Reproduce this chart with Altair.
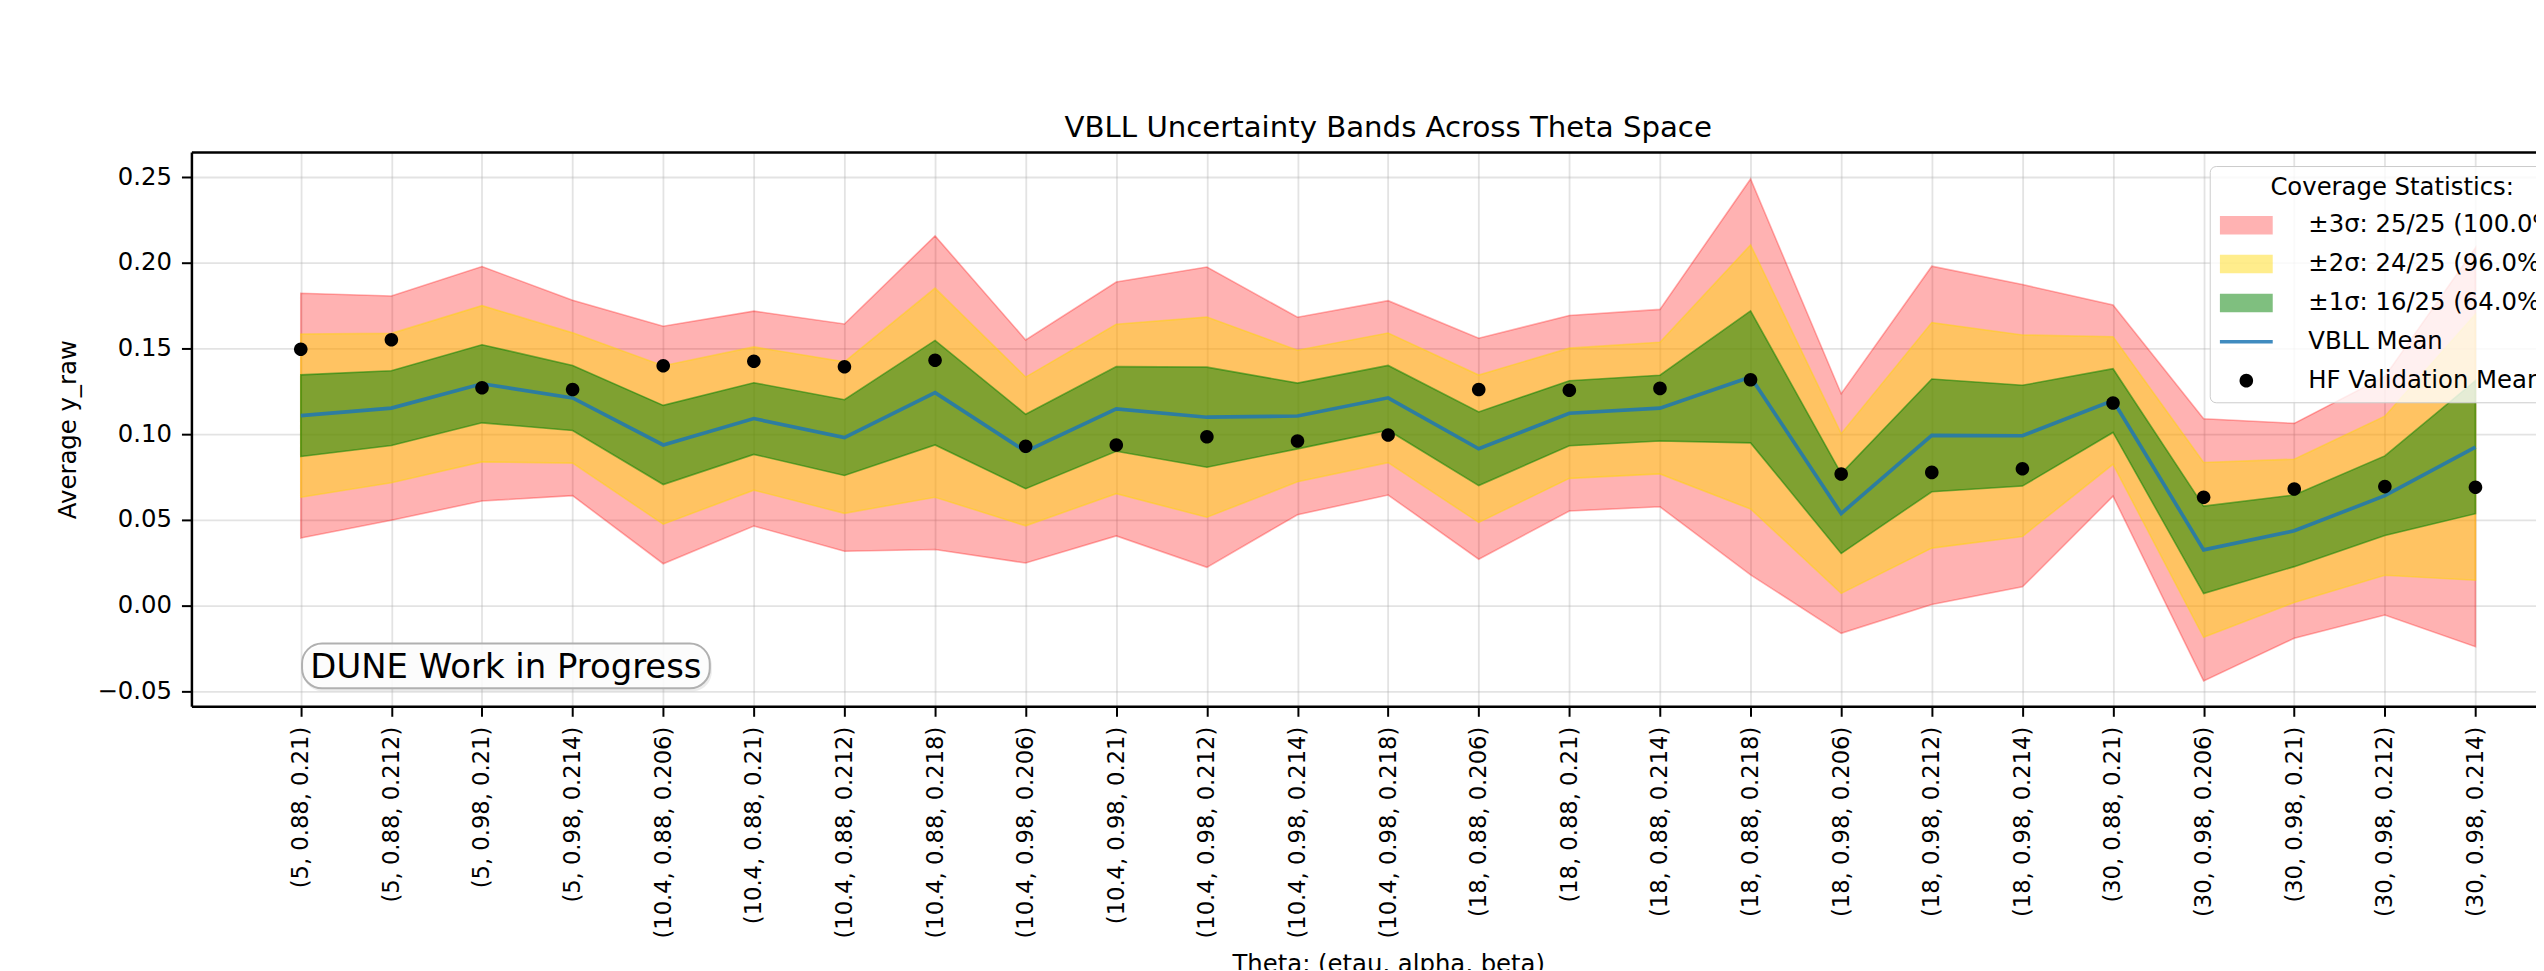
import json
import altair as alt
import pandas as pd

# ---------------- data ----------------
theta_labels = [
    "(5, 0.88, 0.21)", "(5, 0.88, 0.212)", "(5, 0.98, 0.21)", "(5, 0.98, 0.214)",
    "(10.4, 0.88, 0.206)", "(10.4, 0.88, 0.21)", "(10.4, 0.88, 0.212)", "(10.4, 0.88, 0.218)",
    "(10.4, 0.98, 0.206)", "(10.4, 0.98, 0.21)", "(10.4, 0.98, 0.212)", "(10.4, 0.98, 0.214)",
    "(10.4, 0.98, 0.218)", "(18, 0.88, 0.206)", "(18, 0.88, 0.21)", "(18, 0.88, 0.214)",
    "(18, 0.88, 0.218)", "(18, 0.98, 0.206)", "(18, 0.98, 0.212)", "(18, 0.98, 0.214)",
    "(30, 0.88, 0.21)", "(30, 0.98, 0.206)", "(30, 0.98, 0.21)", "(30, 0.98, 0.212)",
    "(30, 0.98, 0.214)",
]

vbll_mean = [0.1109, 0.1153, 0.1295, 0.1212, 0.0938, 0.1092, 0.0981, 0.1243, 0.0900,
             0.1148, 0.1100, 0.1107, 0.1213, 0.0916, 0.1123, 0.1153, 0.1335, 0.0538,
             0.0994, 0.0992, 0.1197, 0.0326, 0.0437, 0.0642, 0.0925]

vbll_std = [0.0238, 0.0218, 0.0228, 0.0190, 0.0231, 0.0209, 0.0221, 0.0305, 0.0217,
            0.0247, 0.0292, 0.0192, 0.0189, 0.0215, 0.0190, 0.0192, 0.0385, 0.0233,
            0.0329, 0.0294, 0.0186, 0.0255, 0.0209, 0.0232, 0.0388]

hf_mean = [0.1496, 0.1552, 0.1272, 0.1262, 0.1400, 0.1426, 0.1394, 0.1432, 0.0930,
           0.0938, 0.0986, 0.0961, 0.0996, 0.1262, 0.1257, 0.1268, 0.1318, 0.0768,
           0.0778, 0.0799, 0.1183, 0.0633, 0.0681, 0.0695, 0.0691]

band_sigmas = [3, 2, 1]
legend_entries = [
    "±3σ: 25/25 (100.0%)",
    "±2σ: 24/25 (96.0%)",
    "±1σ: 16/25 (64.0%)",
    "VBLL Mean",
    "HF Validation Mean",
]
y_ticks = [-0.05, 0.0, 0.05, 0.10, 0.15, 0.20, 0.25]
note_text = ["DUNE Work in Progress"]

# ---------------- styles ----------------
band_fill = ["rgba(255,0,0,0.3)", "rgba(255,215,0,0.45)", "rgba(0,128,0,0.5)"]
mean_color = "rgba(31,119,180,0.85)"
point_color = "#000000"
legend_colors = band_fill + [mean_color, point_color]

# symbol paths in units of half the symbol diameter (symbol size 576 -> 12 px)
PATCH = "M-2.208,-0.773H2.208V0.773H-2.208Z"
LINE = "M-2.208,-0.153H2.208V0.153H-2.208Z"
DOT = "M-0.567,0A0.567,0.567,0,1,1,0.567,0A0.567,0.567,0,1,1,-0.567,0Z"
legend_shapes = [PATCH, PATCH, PATCH, LINE, DOT]
SYMBOL_SIZE = 576

FONT = "DejaVu Sans"
W, H = 2352, 556

base = pd.DataFrame({
    "idx": list(range(len(theta_labels))),
    "theta": theta_labels,
    "mean": vbll_mean,
    "std": vbll_std,
    "hf": hf_mean,
})

x_scale = alt.Scale(domain=[-1.2068, 24.668], nice=False, zero=False)
y_scale = alt.Scale(domain=[-0.0587, 0.2647], nice=False, zero=False)

y_axis = alt.Axis(
    title="Average y_raw", values=y_ticks, format=".2f",
    labelFontSize=24.4, titleX=-116.2, titleY=H / 2, titleAngle=270,
    titleAlign="center", titleBaseline="alphabetic",
)
x_axis = alt.Axis(
    values=list(range(len(theta_labels))),
    labelExpr=json.dumps(theta_labels) + "[datum.value]",
    labelAngle=270, labelAlign="right", labelBaseline="middle",
    labelFontSize=22.7, labelOverlap=False, labelFlush=False, labelLimit=500,
    title="Theta: (etau, alpha, beta)", titleX=1200.6, titleY=266.5,
    titleAlign="center", titleBaseline="alphabetic",
)
top_axis = alt.Axis(orient="top", labels=False, ticks=False, grid=False,
                    domain=True, title=None)

legend = alt.Legend(
    title="Coverage Statistics:", orient="none", legendX=2024.7, legendY=14,
    direction="vertical", padding=10, fillColor="rgba(255,255,255,0.8)",
    strokeColor="#cccccc", cornerRadius=6,
    titleFont=FONT, titleFontSize=24.4, titleFontWeight="normal", titleColor="black",
    titleAnchor="middle", titlePadding=12.7, titleLimit=600,
    labelFont=FONT, labelFontSize=24.4, labelColor="black", labelOffset=50,
    labelLimit=600, symbolSize=SYMBOL_SIZE, symbolOffset=14.5,
    symbolStrokeWidth=0, rowPadding=14,
    zindex=2,
)

color_scale = alt.Scale(domain=legend_entries, range=legend_colors)
shape_scale = alt.Scale(domain=legend_entries, range=legend_shapes)

layers = []
for i, k in enumerate(band_sigmas):
    band = alt.Chart(base).transform_calculate(
        lo=f"datum.mean - {k} * datum.std",
        hi=f"datum.mean + {k} * datum.std",
    ).mark_area(
        fill=band_fill[i], stroke=band_fill[i], strokeWidth=1.6, opacity=1
    ).encode(
        x=alt.X("idx:Q", scale=x_scale, axis=x_axis if i == 0 else None),
        y=alt.Y("lo:Q", scale=y_scale, axis=y_axis),
        y2="hi:Q",
    )
    layers.append(band)

mean_line = alt.Chart(base).mark_line(
    stroke=mean_color, strokeWidth=3.66, opacity=1
).encode(
    x=alt.X("idx:Q", scale=x_scale, axis=top_axis),
    y=alt.Y("mean:Q", scale=y_scale, axis=y_axis),
)
layers.append(mean_line)

points = alt.Chart(base).transform_calculate(
    entry=json.dumps(legend_entries[4])
).mark_point(filled=True, size=SYMBOL_SIZE, opacity=1, strokeWidth=0).encode(
    x=alt.X("idx:Q", scale=x_scale, axis=None),
    y=alt.Y("hf:Q", scale=y_scale, axis=y_axis),
    color=alt.Color("entry:N", scale=color_scale, legend=legend),
    shape=alt.Shape("entry:N", scale=shape_scale, legend=legend),
)
layers.append(points)

note_df = pd.DataFrame({"note": note_text})
note_shadow = alt.Chart(note_df).mark_rect(
    cornerRadius=20, color="#7f7f7f", opacity=0.15
).encode(x=alt.value(112), x2=alt.value(522), y=alt.value(495), y2=alt.value(541))
note_box = alt.Chart(note_df).mark_rect(
    cornerRadius=20, fill="rgba(255,255,255,0.85)", stroke="#b0b0b0",
    strokeWidth=2, opacity=1
).encode(x=alt.value(111), x2=alt.value(520), y=alt.value(493), y2=alt.value(538))
note = alt.Chart(note_df).mark_text(
    font=FONT, fontSize=34, align="center", baseline="alphabetic",
    color="black"
).encode(text="note:N", x=alt.value(315.5), y=alt.value(528))
layers += [note_shadow, note_box, note]

chart = alt.layer(*layers).resolve_axis(x="independent").properties(
    width=W, height=H,
    autosize=alt.AutoSizeParams(type="none"),
    padding={"left": 184, "top": 143, "right": 0, "bottom": 263},
    title=alt.TitleParams(
        text="VBLL Uncertainty Bands Across Theta Space", font=FONT,
        fontSize=29.3, fontWeight="normal", color="black", anchor="middle",
        frame="group", dx=24.6, offset=9,
    ),
).configure(font=FONT, background="white").configure_view(
    stroke="transparent"
).configure_axis(
    labelFont=FONT, labelColor="black", titleFont=FONT, titleColor="black",
    titleFontWeight="normal", titleFontSize=24.4, tickColor="black",
    tickWidth=2, tickSize=10, labelPadding=10, domainColor="black",
    domainWidth=2.5, gridColor="#b0b0b0", gridOpacity=0.35, gridWidth=1.8,
    zindex=1,
)

chart.save("out.html", embed_options={"renderer": "svg", "actions": False})
